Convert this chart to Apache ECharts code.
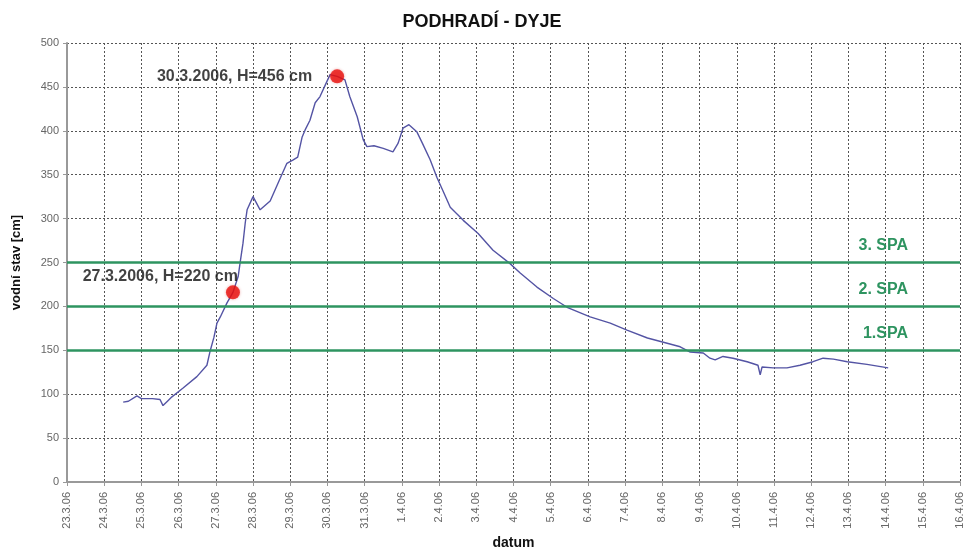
<!DOCTYPE html>
<html lang="cs" style="height: 100%">

<head>
  <meta charset="utf-8">
</head>

<body style="height: 100%; margin: 0; background: #fff">
  <div id="container" style="width: 964px; height: 550px"></div>

  <script type="text/javascript" src="https://cdn.jsdelivr.net/npm/echarts@6/dist/echarts.min.js"></script>

  <script type="text/javascript">
    // datum ticks (one per day from 23.3.06)
    var dateLabels = [
      '23.3.06', '24.3.06', '25.3.06', '26.3.06', '27.3.06', '28.3.06', '29.3.06',
      '30.3.06', '31.3.06', '1.4.06', '2.4.06', '3.4.06', '4.4.06', '5.4.06',
      '6.4.06', '7.4.06', '8.4.06', '9.4.06', '10.4.06', '11.4.06', '12.4.06',
      '13.4.06', '14.4.06', '15.4.06', '16.4.06'
    ];

    // time in days since 23.3.06 00:00, water level in cm
    var levelDays = [
      1.51, 1.65, 1.88, 2.0, 2.3, 2.5, 2.58, 2.7, 2.82, 3.12, 3.49, 3.76, 3.84,
      3.95, 4.03, 4.12, 4.30, 4.46, 4.6, 4.65, 4.73, 4.79, 4.84, 5.0, 5.19, 5.46,
      5.73, 5.91, 6.08, 6.2, 6.32, 6.4, 6.53, 6.67, 6.8, 6.94, 7.07, 7.26, 7.47,
      7.6, 7.8, 7.96, 8.06, 8.25, 8.5, 8.76, 8.9, 9.03, 9.19, 9.4, 9.55, 9.76,
      9.94, 10.1, 10.3, 10.65, 11.05, 11.45, 11.9, 12.18, 12.63, 13.07, 13.44,
      14.06, 14.6, 15.05, 15.6, 16.13, 16.48, 16.75, 17.1, 17.28, 17.42, 17.63,
      17.9, 18.28, 18.57, 18.63, 18.68, 18.98, 19.35, 19.7, 20.05, 20.32, 20.6,
      20.97, 21.5, 22.07
    ];
    var levelCm = [
      91, 92, 98, 95, 95, 94, 87, 92, 97, 107, 120, 133, 148,
      165, 181, 188, 204, 216, 234, 249, 272, 295, 310, 325, 310, 320,
      346, 363, 367, 370, 393, 401, 412, 432, 439, 452, 464, 462, 458,
      439, 416, 390, 382, 383, 380, 376, 386, 403, 407, 399, 386, 367,
      347, 332, 313, 298, 283, 264, 249, 238, 222, 209, 199,
      188, 181, 173, 164, 158, 154, 148, 147, 141, 139, 143,
      141, 137, 133, 122, 131, 130, 130, 133, 137, 141, 140,
      137, 134, 130
    ];

    // highlighted points
    var markDays = [4.46, 7.26];
    var markCm = [216, 462];
    var markTexts = ['27.3.2006, H=220 cm', '30.3.2006, H=456 cm'];

    // flood activity levels (SPA)
    var spaLevels = [150, 200, 250];
    var spaNames = ['1.SPA', '2. SPA', '3. SPA'];

    var yTicks = [0, 50, 100, 150, 200, 250, 300, 350, 400, 450, 500];

    var dom = document.getElementById('container');
    var myChart = echarts.init(dom, null, { renderer: 'canvas' });

    var lineData = levelDays.map(function (d, i) { return [d, levelCm[i]]; });
    var pointData = markDays.map(function (d, i) {
      return {
        value: [d, markCm[i]],
        label: i === 0
          ? { position: 'left', distance: 5, offset: [17, -16] }
          : { position: 'left', distance: 18, offset: [0, 0] }
      };
    });
    var spaData = spaLevels.map(function (v, i) {
      return { yAxis: v, label: { formatter: spaNames[i] } };
    });

    var option = {
      animation: false,
      backgroundColor: '#fff',
      title: {
        text: 'PODHRADÍ - DYJE',
        left: 'center',
        top: 8,
        textStyle: {
          fontFamily: 'Liberation Sans',
          fontSize: 18,
          fontWeight: 'bold',
          color: '#111'
        }
      },
      grid: { left: 67, right: 4, top: 43, bottom: 68, outerBoundsMode: 'none', containLabel: false },
      xAxis: {
        type: 'value',
        min: 0,
        max: dateLabels.length - 1,
        interval: 1,
        name: 'datum',
        nameLocation: 'middle',
        nameGap: 54,
        nameTextStyle: {
          fontFamily: 'Liberation Sans',
          fontSize: 14,
          fontWeight: 'bold',
          color: '#111'
        },
        axisLine: { lineStyle: { color: '#999', width: 2 } },
        axisTick: { show: true, length: 4, lineStyle: { color: '#999' } },
        axisLabel: {
          rotate: 90,
          fontFamily: 'Liberation Sans',
          fontSize: 11,
          color: '#666',
          margin: 10,
          formatter: function (v) { return dateLabels[Math.round(v)] || ''; }
        },
        splitLine: {
          show: true,
          lineStyle: { color: '#555', type: [2, 2], width: 1 }
        }
      },
      yAxis: {
        type: 'value',
        min: yTicks[0],
        max: yTicks[yTicks.length - 1],
        interval: 50,
        name: 'vodní stav [cm]',
        nameLocation: 'middle',
        nameGap: 44,
        nameTextStyle: {
          fontFamily: 'Liberation Sans',
          fontSize: 13,
          fontWeight: 'bold',
          color: '#111'
        },
        axisLine: { show: true, lineStyle: { color: '#999', width: 2 } },
        axisTick: { show: true, length: 4, lineStyle: { color: '#999' } },
        axisLabel: {
          fontFamily: 'Liberation Sans',
          fontSize: 11,
          color: '#666',
          margin: 8
        },
        splitLine: {
          show: true,
          lineStyle: { color: '#555', type: [2, 2], width: 1 }
        }
      },
      series: [
        {
          name: 'SPA',
          type: 'line',
          data: [],
          markLine: {
            silent: true,
            symbol: 'none',
            lineStyle: { color: '#2e9460', width: 2.5, type: 'solid' },
            label: {
              position: 'insideEndTop',
              distance: [52, 9],
              fontFamily: 'Liberation Sans',
              fontSize: 16,
              fontWeight: 'bold',
              color: '#2e9460'
            },
            data: spaData
          }
        },
        {
          name: 'vodní stav',
          type: 'line',
          data: lineData,
          showSymbol: false,
          smooth: false,
          lineStyle: { color: '#5454a4', width: 1.4 },
          z: 3
        },
        {
          name: 'body',
          type: 'scatter',
          data: pointData,
          symbolSize: 14,
          itemStyle: { color: '#e8100c', shadowColor: 'rgba(200,0,0,0.4)', shadowBlur: 3 },
          label: {
            show: true,
            formatter: function (p) { return markTexts[p.dataIndex]; },
            fontFamily: 'Liberation Sans',
            fontSize: 16,
            fontWeight: 'bold',
            color: '#111'
          },
          z: 4
        }
      ]
    };

    myChart.setOption(option);
    window.addEventListener('resize', myChart.resize);
  </script>
</body>

</html>
